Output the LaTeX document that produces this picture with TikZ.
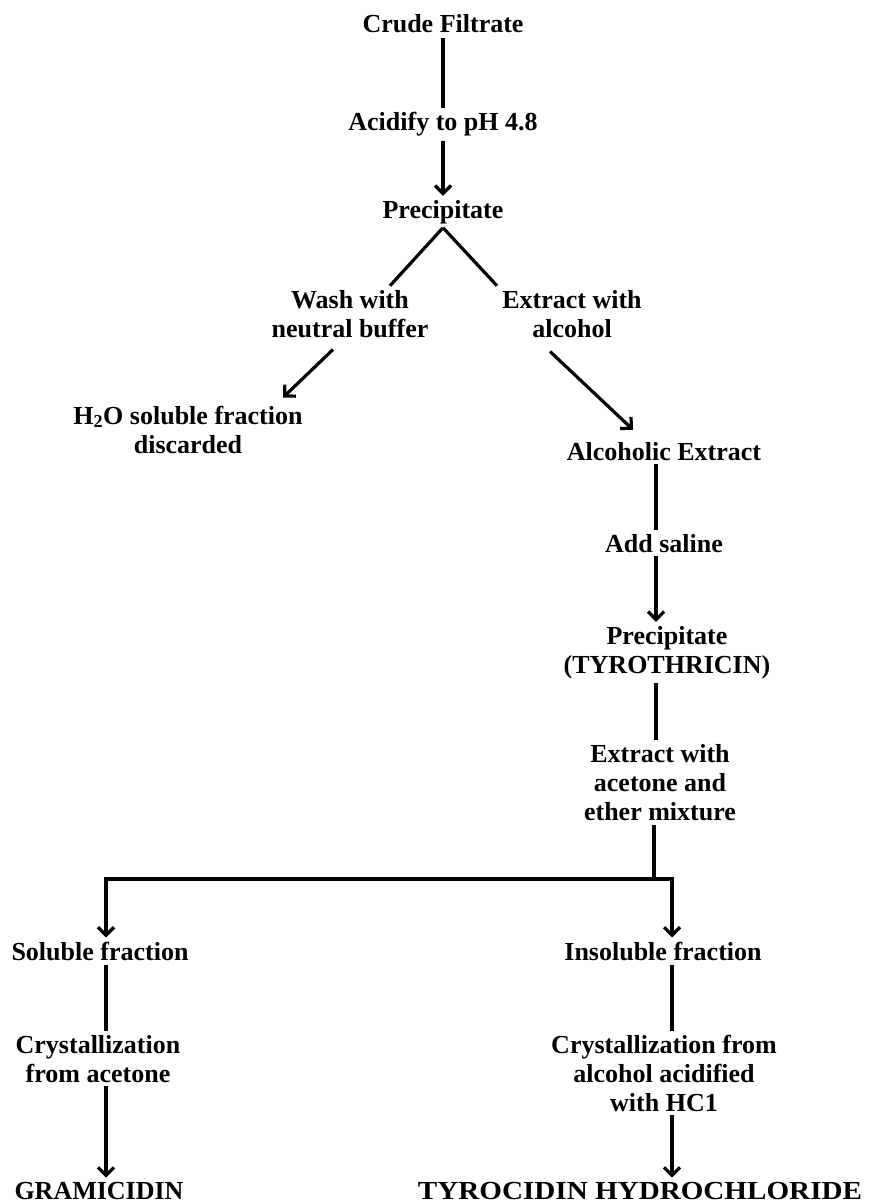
\documentclass[tikz,border=0pt]{standalone}
\usepackage{fontspec}
\setmainfont{Liberation Serif}
\usetikzlibrary{arrows.meta,calc}

\begin{document}
\begin{tikzpicture}[x=1pt,y=-1pt,
  lbl/.style={font=\fontsize{26}{29}\selectfont\bfseries,align=center,anchor=base,inner sep=4pt},
  conn/.style={line width=3.2pt},
  arr/.style={conn,-{Straight Barb[length=8pt,width=16pt]}}]
\useasboundingbox (0,0) rectangle (871,1204);
\node[lbl] (crude) at (443,33) {Crude Filtrate};
\node[lbl] (acid) at (443,131) {Acidify to pH 4.8};
\node[lbl] (prec) at (443,218) {Precipitate};
\node[lbl] (wash) at (350,337) {Wash with\\neutral buffer};
\node[lbl] (extr) at (572,337) {Extract with\\alcohol};
\node[lbl] (water) at (188,453) {H\textsubscript{2}O soluble fraction\\discarded};
\node[lbl] (alcx) at (664,460) {Alcoholic Extract};
\node[lbl] (salt) at (664,552) {Add saline};
\node[lbl] (tyro) at (667,673) {Precipitate\\(TYROTHRICIN)};
\node[lbl] (acet) at (660,820) {Extract with\\acetone and\\ether mixture};
\node[lbl] (sol) at (100,960) {Soluble fraction};
\node[lbl] (insol) at (663,960) {Insoluble fraction};
\node[lbl] (crysa) at (98,1082) {Crystallization\\from acetone};
\node[lbl] (crysb) at (664,1111) {Crystallization from\\alcohol acidified\\with HC1};
\node[lbl] (gram) at (99,1199) {GRAMICIDIN};
\node[lbl] (tyrc) at (640,1199) {\scalebox{1.12}[1]{TYROCIDIN HYDROCHLORIDE}};
\coordinate (colr) at (656,0);
\coordinate (jm) at (654,879);
\coordinate (jl) at (106,879);
\coordinate (jr) at (672,879);
\draw[conn] (crude.south) -- (acid.north);
\draw[arr] (acid.south) -- (prec.north);
\draw[conn] (prec.south) -- ($(wash.north)+(40,0)$);
\draw[conn] (prec.south) -- ($(extr.north)+(-75,0)$);
\draw[arr] ($(wash.south)+(-17,8)$) -- ($(water.north)+(95,-4)$);
\draw[arr] ($(extr.south)+(-22,10)$) -- ($(alcx.north)+(-31,-8)$);
\draw[conn] (alcx.south -| colr) -- (salt.north -| colr);
\draw[arr] (salt.south -| colr) -- (tyro.north -| colr);
\draw[conn] (tyro.south -| colr) -- (acet.north -| colr);
\draw[conn] (acet.south -| jm) -- (jm);
\draw[arr] (jm) -| (sol.north -| jl);
\draw[arr] (jm) -| (insol.north -| jr);
\draw[conn] (sol.south -| jl) -- (crysa.north -| jl);
\draw[arr] (crysa.south -| jl) -- (gram.north -| jl);
\draw[conn] (insol.south -| jr) -- (crysb.north -| jr);
\draw[arr] (crysb.south -| jr) -- (tyrc.north -| jr);
\end{tikzpicture}
\end{document}
